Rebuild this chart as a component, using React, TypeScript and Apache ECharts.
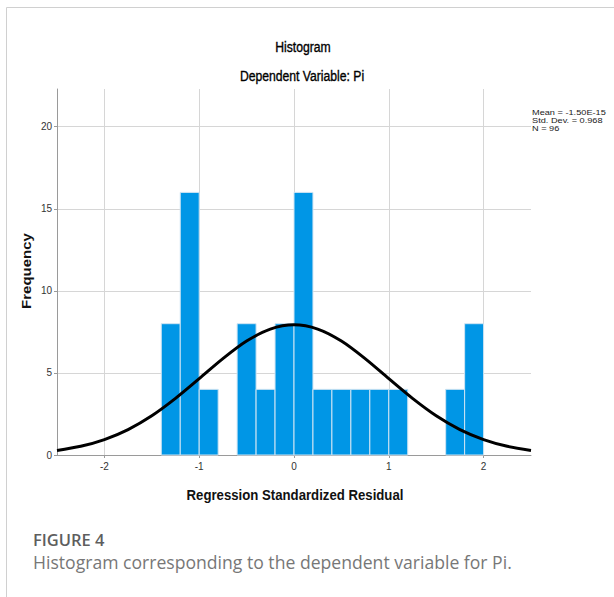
import React, { useEffect, useRef } from "react";
import * as echarts from "echarts";

// Histogram bins (start of each bin, width 0.2) and their frequencies
const binStarts = [-1.4, -1.2, -1.0, -0.8, -0.6, -0.4, -0.2, 0, 0.2, 0.4, 0.6, 0.8, 1.0, 1.2, 1.4, 1.6, 1.8];
const binCounts = [8, 16, 4, 0, 8, 4, 8, 16, 4, 4, 4, 4, 4, 0, 0, 4, 8];
const binWidth = 0.2;

// Normal curve
const curveX = [-2.5, -2.25, -2, -1.75, -1.5, -1.25, -1, -0.75, -0.5, -0.25, 0, 0.25, 0.5, 0.75, 1, 1.25, 1.5, 1.75, 2, 2.25, 2.5];
const curveY = [0.28, 0.53, 0.94, 1.55, 2.39, 3.45, 4.65, 5.87, 6.94, 7.67, 7.93, 7.67, 6.94, 5.87, 4.65, 3.45, 2.39, 1.55, 0.94, 0.53, 0.28];

const xTicks = [-2, -1, 0, 1, 2];
const yTicks = [0, 5, 10, 15, 20];

const titleText = "Histogram";
const subtitleText = "Dependent Variable: Pi";
const xName = "Regression Standardized Residual";
const yName = "Frequency";
const statLines = ["Mean = -1.50E-15", "Std. Dev. = 0.968", "N = 96"];
const captionHead = "FIGURE 4";
const captionText = "Histogram corresponding to the dependent variable for Pi.";

const FONT = '"Liberation Sans", Arial, sans-serif';

export default function App() {
  const ref = useRef<HTMLDivElement>(null);

  useEffect(() => {
    if (!ref.current) return;
    const chart = echarts.init(ref.current, undefined, { renderer: "svg" });

    const barData = binStarts.map((s, i) => [s, +(s + binWidth).toFixed(2), binCounts[i]]);
    const lineData = curveX.map((x, i) => [x, curveY[i]]);

    const statTexts = statLines.map((t, i) => ({
      type: "text",
      x: 532,
      y: 112 + i * 8,
      scaleX: 1.15,
      style: { text: t, align: "left", verticalAlign: "middle", fill: "#1a1a1a", fontSize: 8, lineHeight: 8, fontFamily: FONT },
    }));

    const option: any = {
      animation: false,
      backgroundColor: "#ffffff",
      grid: { left: 57, top: 89, right: 83, bottom: 142, containLabel: false },
      xAxis: {
        type: "value",
        min: -2.5,
        max: 2.5,
        interval: 0.5,
        axisLine: { show: true, onZero: false, lineStyle: { color: "#9a9a9a", width: 1 } },
        axisTick: { show: true, customValues: xTicks, length: 3, lineStyle: { color: "#9a9a9a" } },
        axisLabel: { customValues: xTicks, color: "#333", fontSize: 10, fontFamily: FONT, margin: 6 },
        splitLine: { show: true, lineStyle: { color: "#d6d6d6", width: 1 } },
      },
      yAxis: {
        type: "value",
        min: 0,
        max: 22.3,
        interval: 5,
        axisLine: { show: true, onZero: false, lineStyle: { color: "#9a9a9a", width: 1 } },
        axisTick: { show: true, customValues: yTicks, length: 3, lineStyle: { color: "#9a9a9a" } },
        axisLabel: { customValues: yTicks, color: "#333", fontSize: 10, fontFamily: FONT, margin: 5 },
        splitLine: { show: true, lineStyle: { color: "#d6d6d6", width: 1 } },
      },
      series: [
        {
          type: "custom",
          z: 2,
          encode: { x: [0, 1], y: 2 },
          data: barData,
          renderItem: (params: any, api: any) => {
            const x0 = api.value(0);
            const x1 = api.value(1);
            const c = api.value(2);
            if (!c) return { type: "group", children: [] };
            const p0 = api.coord([x0, 0]);
            const p1 = api.coord([x1, c]);
            return {
              type: "rect",
              shape: { x: p0[0], y: p1[1], width: p1[0] - p0[0], height: p0[1] - p1[1] },
              style: { fill: "#0096e6", stroke: "#cfe4f3", lineWidth: 1 },
            };
          },
        },
        {
          type: "line",
          z: 3,
          data: lineData,
          smooth: 0.3,
          showSymbol: false,
          symbol: "none",
          lineStyle: { color: "#000000", width: 3 },
        },
      ],
      graphic: [
        { type: "line", shape: { x1: 6.5, y1: 7.5, x2: 614, y2: 7.5 }, style: { stroke: "#d0d0d0", lineWidth: 1 } },
        { type: "line", shape: { x1: 6.5, y1: 7.5, x2: 6.5, y2: 597 }, style: { stroke: "#d0d0d0", lineWidth: 1 } },
        {
          type: "text", x: 303, y: 47, scaleX: 0.87,
          style: { text: titleText, align: "center", verticalAlign: "middle", fill: "#000", stroke: "#000", lineWidth: 0.35, fontSize: 14, fontFamily: FONT },
        },
        {
          type: "text", x: 302, y: 76, scaleX: 0.87,
          style: { text: subtitleText, align: "center", verticalAlign: "middle", fill: "#000", stroke: "#000", lineWidth: 0.35, fontSize: 14, fontFamily: FONT },
        },
        {
          type: "text", x: 295, y: 495, scaleX: 0.88,
          style: { text: xName, align: "center", verticalAlign: "middle", fill: "#111", fontSize: 15, fontWeight: "bold", fontFamily: FONT },
        },
        {
          type: "text", x: 26, y: 271, rotation: Math.PI / 2, scaleY: 0.9,
          style: { text: yName, align: "center", verticalAlign: "middle", fill: "#111", fontSize: 15, fontWeight: "bold", fontFamily: FONT },
        },
        ...statTexts,
        {
          type: "text", x: 33, y: 539,
          style: { text: captionHead, align: "left", verticalAlign: "middle", fill: "#5e5e5e", fontSize: 16.5, fontWeight: 600, fontFamily: '"Open Sans", sans-serif' },
        },
        {
          type: "text", x: 33, y: 562,
          style: { text: captionText, align: "left", verticalAlign: "middle", fill: "#777", fontSize: 17.6, fontFamily: '"Open Sans", sans-serif' },
        },
      ],
    };

    chart.setOption(option);
    return () => chart.dispose();
  }, []);

  return (
    <div
      ref={ref}
      style={{ position: "absolute", left: 0, top: 0, width: 614, height: 597, background: "#fff" }}
    />
  );
}
